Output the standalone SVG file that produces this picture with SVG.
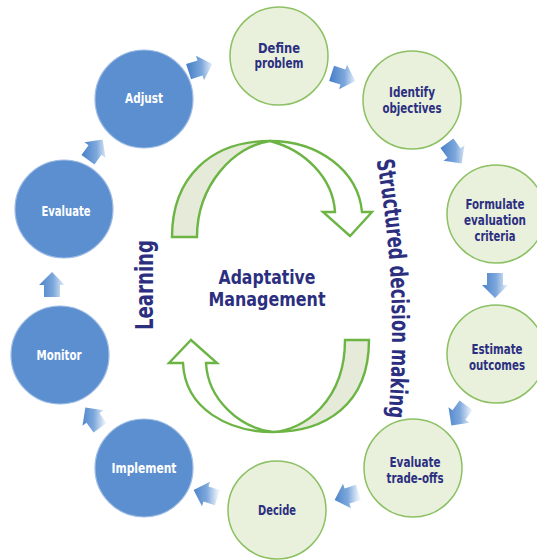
<svg xmlns="http://www.w3.org/2000/svg" width="537" height="560" viewBox="0 0 537 560">
<defs>
<linearGradient id="ag" x1="0" y1="0.5" x2="1" y2="0.5">
<stop offset="0" stop-color="#4a82c9"/>
<stop offset="0.55" stop-color="#7ea8dc"/>
<stop offset="1" stop-color="#eef4fb"/>
</linearGradient>
<linearGradient id="a1" href="#ag" gradientTransform="rotate(18 .5 .5)"/>
<linearGradient id="a2" href="#ag" gradientTransform="rotate(-18 .5 .5)"/>
<linearGradient id="a3" href="#ag" gradientTransform="rotate(-54 .5 .5)"/>
<linearGradient id="a4" href="#ag" gradientTransform="rotate(-90 .5 .5)"/>
<linearGradient id="a5" href="#ag" gradientTransform="rotate(-126 .5 .5)"/>
<linearGradient id="a6" href="#ag" gradientTransform="rotate(-162 .5 .5)"/>
<linearGradient id="a7" href="#ag" gradientTransform="rotate(-198 .5 .5)"/>
<linearGradient id="a8" href="#ag" gradientTransform="rotate(-234 .5 .5)"/>
<linearGradient id="a9" href="#ag" gradientTransform="rotate(-270 .5 .5)"/>
<linearGradient id="a10" href="#ag" gradientTransform="rotate(-306 .5 .5)"/>
<path id="arr" d="M-12,-8 H0 V-13 L13,0 L0,13 V8 H-12 Z"/>
<path id="sdm" d="M376,158 Q400,290 388,420"/>
</defs>
<style>
text { font-family: "DejaVu Sans Condensed", "DejaVu Sans", "Liberation Sans", sans-serif; font-weight: bold; font-stretch: condensed; text-anchor: middle; }
.blue circle { fill: #5b8fd0; stroke: #9dbbe3; stroke-width: 1.2; }
.green circle { fill: #e9f1dd; stroke: #8cc063; stroke-width: 1.5; }
.blue text { fill: #ffffff; font-size: 13.5px; }
.green text { fill: #2c2f80; font-size: 13.5px; }
.big { fill: #2c2f80; }
.ring { stroke: #6cb545; stroke-width: 2.4; stroke-linejoin: miter; }
.shade { fill: #e5ebd8; }
.plain { fill: #ffffff; }
</style>
<rect width="537" height="560" fill="#ffffff"/>

<g id="center-cycle">
<path class="ring shade" d="M172,237 C172,178 210,141 270,141 C234,146 197,185 197,237 Z"/>
<path class="ring plain" d="M270,141 C318,141 358,170 362,212 L372,212 L350,236 L323,212 L335,212 C333,178 305,150 270,141 Z"/>
<path class="ring shade" d="M345,340 H369 C369,405 325,432 273,432 C305,430 345,400 345,340 Z"/>
<path class="ring plain" d="M273,432 C230,432 185,410 183,363 L169,363 L191,340 L217,363 L206,363 C208,400 240,428 273,432 Z"/>
</g>

<g id="center-labels">
<text class="big" x="267" y="283.5" font-size="19" textLength="97" lengthAdjust="spacingAndGlyphs">Adaptative</text>
<text class="big" x="267" y="306" font-size="19" textLength="117" lengthAdjust="spacingAndGlyphs">Management</text>
<text class="big" transform="translate(153,285) rotate(-90)" x="0" y="0" font-size="25" textLength="90" lengthAdjust="spacingAndGlyphs">Learning</text>
<text class="big" font-size="24"><textPath href="#sdm" startOffset="50%" textLength="258" lengthAdjust="spacingAndGlyphs">Structured decision making</textPath></text>
</g>

<g id="connectors">
<use href="#arr" fill="url(#a1)" transform="translate(200,68) rotate(-18)"/>
<use href="#arr" fill="url(#a2)" transform="translate(343,77) rotate(18)"/>
<use href="#arr" fill="url(#a3)" transform="translate(454,153) rotate(54)"/>
<use href="#arr" fill="url(#a4)" transform="translate(495,285) rotate(90)"/>
<use href="#arr" fill="url(#a5)" transform="translate(459,415) rotate(126)"/>
<use href="#arr" fill="url(#a6)" transform="translate(347,496) rotate(162)"/>
<use href="#arr" fill="url(#a7)" transform="translate(206,494) rotate(198)"/>
<use href="#arr" fill="url(#a8)" transform="translate(93,418) rotate(234)"/>
<use href="#arr" fill="url(#a9)" transform="translate(52,285) rotate(270)"/>
<use href="#arr" fill="url(#a10)" transform="translate(95,150) rotate(306)"/>
</g>

<g id="define-problem" class="green">
<circle cx="279" cy="56" r="49"/>
<text x="279" y="52.5" textLength="42" lengthAdjust="spacingAndGlyphs">Define</text>
<text x="279" y="67.5" textLength="49" lengthAdjust="spacingAndGlyphs">problem</text>
</g>
<g id="identify-objectives" class="green">
<circle cx="412" cy="100" r="49"/>
<text x="412" y="97" textLength="46" lengthAdjust="spacingAndGlyphs">Identify</text>
<text x="412" y="113" textLength="59" lengthAdjust="spacingAndGlyphs">objectives</text>
</g>
<g id="formulate-criteria" class="green">
<circle cx="496" cy="214" r="49"/>
<text x="495" y="209" textLength="59" lengthAdjust="spacingAndGlyphs">Formulate</text>
<text x="495" y="225" textLength="62" lengthAdjust="spacingAndGlyphs">evaluation</text>
<text x="495" y="241" textLength="41" lengthAdjust="spacingAndGlyphs">criteria</text>
</g>
<g id="estimate-outcomes" class="green">
<circle cx="496" cy="354" r="49"/>
<text x="497" y="354" textLength="51" lengthAdjust="spacingAndGlyphs">Estimate</text>
<text x="497" y="370" textLength="56" lengthAdjust="spacingAndGlyphs">outcomes</text>
</g>
<g id="evaluate-tradeoffs" class="green">
<circle cx="413" cy="468" r="49"/>
<text x="415" y="466.5" textLength="51" lengthAdjust="spacingAndGlyphs">Evaluate</text>
<text x="415" y="482.5" textLength="57" lengthAdjust="spacingAndGlyphs">trade-offs</text>
</g>
<g id="decide" class="green">
<circle cx="277" cy="510" r="49"/>
<text x="277" y="515" textLength="38" lengthAdjust="spacingAndGlyphs">Decide</text>
</g>
<g id="implement" class="blue">
<circle cx="144" cy="468" r="49"/>
<text x="144" y="473" textLength="65" lengthAdjust="spacingAndGlyphs">Implement</text>
</g>
<g id="monitor" class="blue">
<circle cx="60" cy="355" r="49"/>
<text x="59" y="360" textLength="45" lengthAdjust="spacingAndGlyphs">Monitor</text>
</g>
<g id="evaluate" class="blue">
<circle cx="64" cy="209" r="49"/>
<text x="66" y="216" textLength="49" lengthAdjust="spacingAndGlyphs">Evaluate</text>
</g>
<g id="adjust" class="blue">
<circle cx="144" cy="99" r="49"/>
<text x="144" y="103" textLength="38" lengthAdjust="spacingAndGlyphs">Adjust</text>
</g>
</svg>
